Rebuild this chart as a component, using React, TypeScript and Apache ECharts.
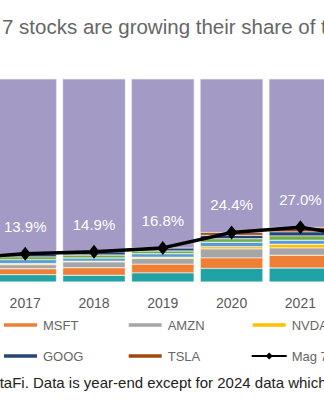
import React, { useEffect, useRef } from "react";
import * as echarts from "echarts";

const years = ["2016", "2017", "2018", "2019", "2020", "2021", "2022"];
const aapl = [3.2, 3.6, 3.3, 4.5, 6.7, 6.9, 6.1];
const msft = [2.5, 2.9, 3.7, 4.3, 5.2, 6.3, 5.6];
const amzn = [1.6, 2.0, 2.9, 2.8, 4.4, 3.6, 2.6];
const nvda = [0.3, 0.6, 0.4, 0.6, 1.1, 1.8, 1.2];
const meta = [1.6, 1.9, 1.5, 1.7, 2.2, 2.0, 1.0];
const googl = [1.2, 1.4, 1.5, 1.4, 1.7, 2.1, 1.8];
const goog = [1.2, 1.5, 1.6, 1.5, 1.7, 2.0, 1.7];
const tsla = [0, 0, 0, 0, 1.4, 2.3, 1.5];
const mag7 = [11.6, 13.9, 14.9, 16.8, 24.4, 27.0, 21.5];
const rest = mag7.map((v) => +(100 - v).toFixed(1));

const stocks = [
  { name: "AAPL", data: aapl, color: "#21a3a6" },
  { name: "MSFT", data: msft, color: "#ee7f34" },
  { name: "AMZN", data: amzn, color: "#a6a6a6" },
  { name: "NVDA", data: nvda, color: "#ffc000" },
  { name: "META", data: meta, color: "#5b9bd5" },
  { name: "GOOGL", data: googl, color: "#70ad47" },
  { name: "GOOG", data: goog, color: "#264478" },
  { name: "TSLA", data: tsla, color: "#9e480e" },
];

const title = "Magnificent 7 stocks are growing their share of the S&P 500";
const note = "DataFi. Data is year-end except for 2024 data which";

const OFF = 130; // page x = chart x - OFF
const FONT = "'Liberation Sans', Arial, Helvetica, sans-serif";

export default function App() {
  const ref = useRef<HTMLDivElement>(null);
  useEffect(() => {
    if (!ref.current) return;
    const chart = echarts.init(ref.current, undefined, { renderer: "svg" });
    const series: any[] = stocks.map((s) => ({
      name: s.name,
      type: "bar",
      stack: "total",
      barWidth: 62.5,
      data: s.data,
      itemStyle: { color: s.color, borderColor: "#ffffff", borderWidth: 0.4 },
    }));
    series.push({
      name: "Rest of S&P 500",
      type: "bar",
      stack: "total",
      barWidth: 62.5,
      data: rest,
      itemStyle: { color: "#a39ac5", borderColor: "#c9c4de", borderWidth: 0.5 },
    });
    series.push({
      name: "Mag 7",
      type: "line",
      data: mag7,
      symbol: "diamond",
      symbolSize: [11, 14],
      lineStyle: { color: "#000", width: 3.5 },
      itemStyle: { color: "#000" },
      z: 10,
      label: {
        show: true,
        position: "top",
        distance: 13,
        color: "#ffffff",
        fontSize: 15,
        fontFamily: FONT,
        formatter: (p: any) => p.value.toFixed(1) + "%",
      },
    });

    const colX = [8, 132, 256.7, 380.7, 504.7];
    const legendItems = [
      { name: "AAPL", col: 0, row: 0 },
      { name: "MSFT", col: 1, row: 0 },
      { name: "AMZN", col: 2, row: 0 },
      { name: "NVDA", col: 3, row: 0 },
      { name: "META", col: 4, row: 0 },
      { name: "GOOGL", col: 0, row: 1 },
      { name: "GOOG", col: 1, row: 1 },
      { name: "TSLA", col: 2, row: 1 },
      { name: "Mag 7", col: 3, row: 1 },
    ];
    const rowY = [325, 356];
    const legend = legendItems.map((it) => ({
      data: [it.name],
      left: colX[it.col],
      top: rowY[it.row] - 6.5,
      padding: 0,
      itemWidth: 35,
      itemHeight: it.name === "Mag 7" ? 9 : 5.5,
      icon: it.name === "Mag 7" ? undefined : "rect",
      selectedMode: false,
      textStyle: { color: "#666", fontSize: 13, fontFamily: FONT },
    }));

    chart.setOption({
      animation: false,
      grid: { left: 52, width: 481.6, top: 79, height: 203 },
      xAxis: {
        type: "category",
        data: years,
        axisLine: { show: false },
        axisTick: { show: false },
        axisLabel: { color: "#595959", fontSize: 14, fontFamily: FONT, margin: 14 },
      },
      yAxis: { type: "value", min: 0, max: 100, show: false },
      legend,
      series,
      graphic: [
        {
          type: "text",
          x: 2 + OFF - 110.5,
          y: 26,
          style: {
            text: title,
            fill: "#666",
            font: `20.5px ${FONT}`,
            verticalAlign: "middle",
            align: "left",
          },
        },
        {
          type: "text",
          x: -19.5 + OFF,
          y: 382,
          style: {
            text: note,
            fill: "#222",
            font: `15px ${FONT}`,
            verticalAlign: "middle",
            align: "left",
          },
        },
      ],
    });
    return () => chart.dispose();
  }, []);
  return (
    <div
      style={{
        position: "fixed",
        left: 0,
        top: 0,
        width: 324,
        height: 400,
        overflow: "hidden",
        background: "#fff",
      }}
    >
      <div
        ref={ref}
        style={{ position: "absolute", left: -OFF, top: 0, width: 640, height: 400 }}
      />
    </div>
  );
}
